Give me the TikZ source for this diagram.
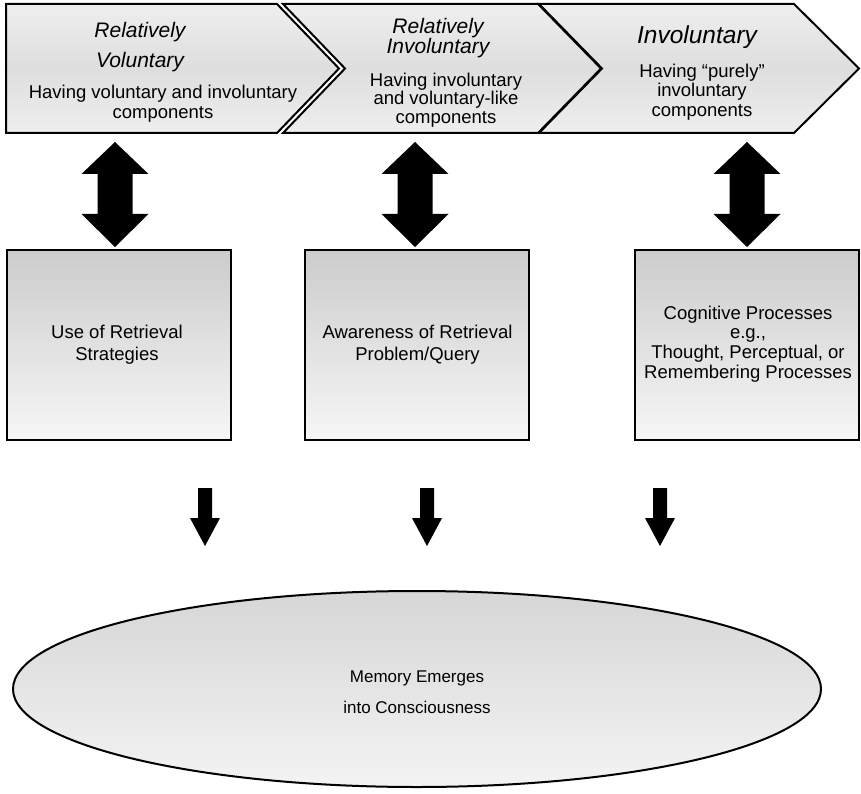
\documentclass[tikz,border=0pt]{standalone}
\usepackage{fontspec}
\setmainfont{Liberation Sans}
\usetikzlibrary{calc,shapes.geometric}
\begin{document}
\begin{tikzpicture}[x=1pt,y=-1pt,
  chev/.style={draw=black,line width=2pt,line join=miter,top color=gray!13,bottom color=gray!13,middle color=gray!26},
  box/.style={draw=black,line width=2.4pt,top color=gray!40,bottom color=gray!7,minimum width=224pt,minimum height=190pt,inner sep=0pt},
  memo/.style={draw=black,line width=2pt,ellipse,top color=gray!32,bottom color=gray!9},
  ttl/.style={inner sep=0pt,align=center,font=\itshape},
  dsc/.style={inner sep=0pt,align=center,font=\fontsize{18.5}{19.5}\selectfont},
  btxt/.style={inner sep=0pt,align=center},
  dblarrow/.pic={\fill[black] (0,0) -- (33.5,32) -- (17.5,32) -- (17.5,72) -- (33.5,72) -- (0,105) -- (-33.5,72) -- (-17.5,72) -- (-17.5,32) -- (-33.5,32) -- cycle;},
  downarrow/.pic={\fill[black] (-7,0) -- (7,0) -- (7,30) -- (15,30) -- (0,58) -- (-15,30) -- (-7,30) -- cycle;}
]
\useasboundingbox (0,0) rectangle (861,794);
% chevrons
\path[chev] (539,4) -- (794,4) -- (859,68.5) -- (794,133) -- (539,133) -- (602,68.5) -- cycle;
\path[chev] (283,4) -- (538,4) -- (601,68.5) -- (538,133) -- (283,133) -- (345,68.5) -- cycle;
\path[chev] (6,4) -- (277,4) -- (339,68.5) -- (277,133) -- (6,133) -- cycle;
% chevron texts
\node[ttl,font=\itshape\fontsize{21}{30}\selectfont] (t1) at (140,47) {Relatively\\Voluntary};
\node[dsc,font=\fontsize{18.5}{19.6}\selectfont] (d1) at (163,103.5) {Having voluntary and involuntary\\components};
\node[ttl,font=\itshape\fontsize{21}{20.5}\selectfont] (t2) at (438,38) {Relatively\\Involuntary};
\node[dsc,font=\fontsize{18.5}{18.3}\selectfont] (d2) at (446,100) {Having involuntary\\and voluntary-like\\components};
\node[ttl,font=\itshape\fontsize{24.5}{27}\selectfont] (t3) at (697,37) {Involuntary};
\node[dsc] (d3) at (702,92) {Having “purely”\\involuntary\\components};
% boxes
\node[box] (b1) at (119,345) {};
\node[box] (b2) at (417,345) {};
\node[box] (b3) at (747,345) {};
\node[btxt,font=\fontsize{18.5}{22}\selectfont] (x1) at (117,345) {Use of Retrieval\\Strategies};
\node[btxt,font=\fontsize{18.5}{22}\selectfont] (x2) at (417.5,345) {Awareness of Retrieval\\Problem/Query};
\node[btxt,font=\fontsize{18.5}{19.7}\selectfont] (x3) at (748,344) {Cognitive Processes\\e.g.,\\Thought, Perceptual, or\\Remembering Processes};
% double arrows
\coordinate (a1) at (115,142);
\coordinate (a2) at (415,142);
\coordinate (a3) at (747,142);
\pic at (a1) {dblarrow};
\pic at (a2) {dblarrow};
\pic at (a3) {dblarrow};
% ellipse
\node[memo,minimum width=808pt,minimum height=196pt] (m) at (417,689) {};
\node[btxt,font=\fontsize{17}{31}\selectfont] (mt) at (417,692) {Memory Emerges\\into Consciousness};
% down arrows
\coordinate (p1) at (205,488);
\coordinate (p2) at (427,488);
\coordinate (p3) at (660,488);
\pic at (p1) {downarrow};
\pic at (p2) {downarrow};
\pic at (p3) {downarrow};
\end{tikzpicture}
\end{document}
